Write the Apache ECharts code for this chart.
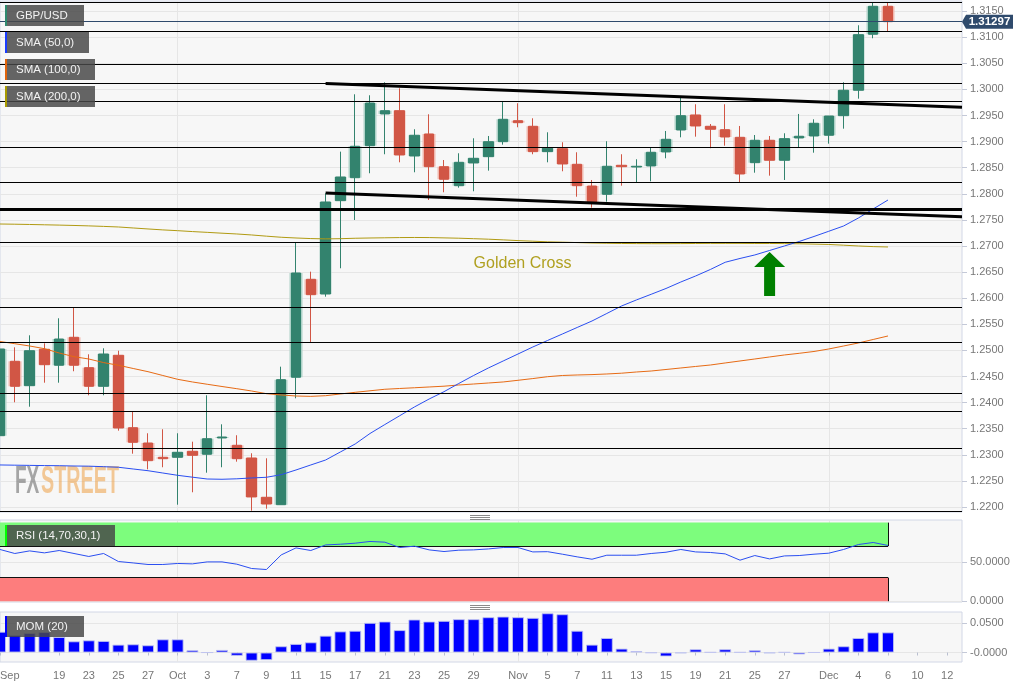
<!DOCTYPE html>
<html>
<head>
<meta charset="utf-8">
<style>html,body{margin:0;padding:0;background:#fff}#c{width:1032px;height:688px}</style>
<script src="https://cdn.jsdelivr.net/npm/echarts@6/dist/echarts.min.js"></script>
</head>
<body>
<div id="c"></div>
<script>
const categories = ['Sep 13','Sep 16','Sep 17','Sep 18','Sep 19','Sep 20','Sep 23','Sep 24','Sep 25','Sep 26','Sep 27','Sep 30',
'Oct 1','Oct 2','Oct 3','Oct 4','Oct 7','Oct 8','Oct 9','Oct 10','Oct 11','Oct 14','Oct 15','Oct 16','Oct 17','Oct 18','Oct 21','Oct 22','Oct 23','Oct 24','Oct 25','Oct 28','Oct 29','Oct 30','Oct 31',
'Nov 1','Nov 4','Nov 5','Nov 6','Nov 7','Nov 8','Nov 11','Nov 12','Nov 13','Nov 14','Nov 15','Nov 18','Nov 19','Nov 20','Nov 21','Nov 22','Nov 25','Nov 26','Nov 27','Nov 28','Nov 29',
'Dec 2','Dec 3','Dec 4','Dec 5','Dec 6','Dec 9','Dec 10','Dec 11','Dec 12','Dec 13'];
const tickCategories = ['Sep 13','Sep 19','Sep 23','Sep 25','Sep 27','Oct 1','Oct 3','Oct 7','Oct 9','Oct 11','Oct 15','Oct 17','Oct 21','Oct 23','Oct 25','Oct 29','Nov 1','Nov 5','Nov 7','Nov 11','Nov 13','Nov 15','Nov 19','Nov 21','Nov 25','Nov 27','Dec 2','Dec 4','Dec 6','Dec 10','Dec 12'];
const tickLabels = ['Sep','19','23','25','27','Oct','3','7','9','11','15','17','21','23','25','29','Nov','5','7','11','13','15','19','21','25','27','Dec','4','6','10','12'];
const monthStarts = ['Oct 1','Nov 1','Dec 2'];

const opens = [1.23366,1.24791,1.24324,1.25021,1.24715,1.25251,1.24669,1.24312,1.24906,1.23519,1.23226,1.22952,1.22952,1.23067,1.23010,1.23322,1.23182,1.22939,1.22186,1.22044,1.24485,1.26362,1.26080,1.27868,1.28308,1.28921,1.29529,1.29592,1.28724,1.29146,1.28519,1.28155,1.28590,1.28711,1.28998,1.29400,1.29293,1.28807,1.28864,1.28565,1.28149,1.27990,1.28546,1.28513,1.28533,1.28801,1.29222,1.29510,1.29293,1.29228,1.29082,1.28596,1.29025,1.28642,1.29069,1.29107,1.29121,1.29496,1.29983,1.31056,1.31592];
const closes = [1.25027,1.24312,1.24994,1.24726,1.25218,1.24715,1.24312,1.24931,1.23513,1.23239,1.22887,1.22925,1.23048,1.22990,1.23308,1.23341,1.22925,1.22192,1.22057,1.24439,1.26483,1.26067,1.27843,1.28322,1.28910,1.29739,1.29592,1.28743,1.29121,1.28519,1.28278,1.28603,1.28680,1.28998,1.29427,1.29362,1.28807,1.28872,1.28571,1.28155,1.27837,1.28527,1.28519,1.28527,1.28795,1.29044,1.29496,1.29299,1.29236,1.29088,1.28379,1.29025,1.28642,1.29056,1.29102,1.29351,1.29490,1.29983,1.31048,1.31592,1.31297];
const lows = [1.23174,1.24006,1.23921,1.24381,1.24381,1.24600,1.24140,1.24140,1.23462,1.23021,1.22722,1.22761,1.22044,1.22282,1.22657,1.22761,1.22868,1.21929,1.21967,1.22044,1.24082,1.25161,1.26029,1.26573,1.27498,1.28393,1.28757,1.28603,1.28412,1.27881,1.28029,1.28117,1.28048,1.28443,1.28941,1.29274,1.28757,1.28603,1.28431,1.27944,1.27734,1.27849,1.28155,1.28220,1.28239,1.28680,1.29082,1.29094,1.28872,1.28921,1.28226,1.28404,1.28347,1.28264,1.28883,1.28787,1.28960,1.29247,1.29822,1.30979,1.31113];
const highs = [1.25071,1.25059,1.25289,1.25136,1.25615,1.25818,1.24925,1.25040,1.24994,1.23820,1.23412,1.23489,1.23412,1.23251,1.24140,1.23584,1.23374,1.23029,1.22933,1.24688,1.27057,1.26508,1.28010,1.28807,1.29906,1.29887,1.30136,1.30021,1.29236,1.29523,1.28647,1.28776,1.29063,1.29107,1.29764,1.29734,1.29446,1.29178,1.28987,1.28795,1.28264,1.29006,1.28757,1.28661,1.28883,1.29203,1.29860,1.29715,1.29337,1.29715,1.29299,1.29126,1.29107,1.29159,1.29529,1.29427,1.29490,1.30136,1.31228,1.31661,1.31661];

const sma50 = [1.22805,1.22801,1.22797,1.22793,1.22791,1.22785,1.22782,1.22772,1.22761,1.22728,1.22695,1.22651,1.22607,1.22571,1.22536,1.22531,1.22540,1.22556,1.22569,1.22619,1.22709,1.22805,1.22900,1.23054,1.23207,1.23408,1.23579,1.23747,1.23916,1.24069,1.24209,1.24366,1.24519,1.24663,1.24797,1.24931,1.25065,1.25190,1.25314,1.25439,1.25563,1.25707,1.25851,1.25966,1.26075,1.26186,1.26310,1.26425,1.26550,1.26688,1.26761,1.26828,1.26914,1.27000,1.27086,1.27182,1.27282,1.27383,1.27536,1.27709,1.27881];
const sma100 = [1.25170,1.25128,1.25084,1.25033,1.24950,1.24879,1.24835,1.24766,1.24715,1.24653,1.24592,1.24519,1.24446,1.24395,1.24351,1.24308,1.24266,1.24222,1.24171,1.24146,1.24126,1.24119,1.24132,1.24165,1.24197,1.24226,1.24255,1.24270,1.24284,1.24299,1.24314,1.24337,1.24356,1.24375,1.24395,1.24427,1.24460,1.24496,1.24519,1.24529,1.24536,1.24548,1.24563,1.24586,1.24605,1.24634,1.24663,1.24692,1.24720,1.24759,1.24797,1.24835,1.24874,1.24912,1.24944,1.24979,1.25027,1.25084,1.25142,1.25209,1.25276];
const sma200 = [1.27421,1.27417,1.27412,1.27406,1.27400,1.27393,1.27385,1.27375,1.27364,1.27345,1.27326,1.27308,1.27293,1.27276,1.27261,1.27245,1.27230,1.27211,1.27188,1.27167,1.27153,1.27142,1.27136,1.27140,1.27148,1.27153,1.27157,1.27161,1.27163,1.27161,1.27155,1.27149,1.27140,1.27130,1.27117,1.27103,1.27092,1.27080,1.27073,1.27065,1.27057,1.27052,1.27048,1.27046,1.27044,1.27044,1.27046,1.27048,1.27050,1.27050,1.27050,1.27048,1.27048,1.27046,1.27042,1.27036,1.27029,1.27015,1.27000,1.26988,1.26981];

const rsi = [65.8,60.7,64.0,61.5,64.5,60.7,56.9,60.7,50.5,48.7,46.7,46.7,48.0,47.5,50.0,50.0,47.1,41.6,40.3,58.9,67.8,64.5,71.6,72.5,73.8,76.0,75.1,68.3,70.0,65.3,63.2,64.9,65.3,66.5,68.3,68.3,62.7,63.0,59.8,56.4,53.4,58.5,58.5,58.5,60.7,62.3,65.8,62.7,62.0,60.2,52.2,58.1,53.8,57.6,58.1,59.8,61.1,65.8,72.1,74.7,70.9];
const mom = [0.0358,0.0301,0.0335,0.0352,0.0267,0.0193,0.0210,0.0199,0.0136,0.0142,0.0125,0.0227,0.0227,0.0040,0,0.0045,-0.0057,-0.0142,-0.0131,0.0108,0.0148,0.0176,0.0290,0.0364,0.0375,0.0511,0.0534,0.0386,0.0568,0.0534,0.0545,0.0574,0.0574,0.0608,0.0619,0.0608,0.0597,0.0676,0.0659,0.0375,0.0136,0.0250,0.0068,0.0023,-0.0006,-0.0068,-0.0011,0.0057,0.0006,0.0057,0.0006,0.0040,-0.0011,0.0006,-0.0034,0.0001,0.0068,0.0108,0.0250,0.0347,0.0347];

const priceTicks = [1.22,1.225,1.23,1.235,1.24,1.245,1.25,1.255,1.26,1.265,1.27,1.275,1.28,1.285,1.29,1.295,1.30,1.305,1.31,1.315];
const rsiTicks = [0,50];
const momTicks = [0,0.05];
const momTickLabels = ['-0.0000','0.0500'];
const levels = [1.31668,1.31109,1.30477,1.30113,1.29772,1.28891,1.28216,1.27067,1.25826,1.25155,1.24178,1.23833,1.23125,1.21918];
const thickLevel = 1.27699;
const lastPrice = 1.31297;
const trendUpper = [['Oct 15',1.30113],['Dec 13',1.29657]];
const trendLower = [['Oct 15',1.28015],['Dec 13',1.27561]];
const goldenCrossText = 'Golden Cross';
const goldenCrossAt = ['Nov 1',1.26693];
const arrowAt = ['Nov 26',1.26885];

const FONT = '"Liberation Sans", Arial, sans-serif';
const GREEN='#33836e', RED='#d15645', FRAME='#d2d7e6', GRIDC='#e6e6e6', LBL='#777777';
const lastIdx = opens.length-1;

const candles = opens.map((o,i)=>[o,closes[i],lows[i],highs[i]]);
const halos = opens.map((o,i)=>[o,closes[i],Math.min(o,closes[i]),Math.max(o,closes[i])]);
const grids = [{top:1,h:511},{top:520,h:82},{top:612,h:50}];

function xAxisOf(gridIndex, showLabels){
  return {
    type:'category', gridIndex, data:categories, boundaryGap:false,
    axisLine:{show:false},
    axisTick:{show:showLabels, length:3, lineStyle:{color:'#b9bfd0'}, interval:(i,v)=>tickCategories.includes(v)},
    axisLabel:{show:showLabels, interval:(i,v)=>tickCategories.includes(v), color:LBL, fontFamily:FONT, fontSize:11, margin:8,
      alignMinLabel:'left',
      formatter:v=>tickLabels[tickCategories.indexOf(v)]},
    splitLine:{show:true, interval:(i,v)=>monthStarts.includes(v), lineStyle:{color:GRIDC,width:1}}
  };
}
function yAxisOf(gridIndex,min,max,ticks,fmt){
  return {
    type:'value', gridIndex, position:'right', min, max, scale:true,
    axisLine:{show:false},
    axisTick:{show:true,length:5,customValues:ticks,lineStyle:{color:'#c4c9d8'}},
    axisLabel:{customValues:ticks,formatter:fmt,color:LBL,fontFamily:FONT,fontSize:11,margin:8,padding:[2,0,0,0]},
    splitLine:{show:true,lineStyle:{color:GRIDC,width:1}}
  };
}
function sma(name,data,color){
  return {name,type:'line',xAxisIndex:0,yAxisIndex:0,data,symbol:'none',z:4,
    lineStyle:{color,width:1},silent:true,animation:false};
}
function legendBox(x,y,w,label,stripe){
  return [
    {type:'rect',shape:{x,y,width:w,height:21},style:{fill:'rgba(72,72,72,0.84)'},z:50},
    {type:'rect',shape:{x,y,width:2,height:21},style:{fill:stripe},z:51},
    {type:'text',x:x+11,y:y+10.5,style:{text:label,fill:'#f2f2f2',font:'11.5px '+FONT,textVerticalAlign:'middle'},z:51}
  ];
}
function handle(y){
  return [0,2,4].map(d=>({type:'line',shape:{x1:470,y1:y+d+0.5,x2:490,y2:y+d+0.5},style:{stroke:'#8a8a8a',lineWidth:1},z:40}));
}
const option = {
  animation:false,
  backgroundColor:'#ffffff',
  grid:grids.map(g=>({left:0,width:962,top:g.top,height:g.h,show:true,backgroundColor:'#f7f7f7',borderColor:FRAME,borderWidth:1,containLabel:false,outerBoundsMode:'none'})),
  xAxis:[xAxisOf(0,false),xAxisOf(1,false),xAxisOf(2,true)],
  yAxis:[
    yAxisOf(0,1.21904,1.31693,priceTicks,v=>v.toFixed(4)),
    yAxisOf(1,-1,103.3,rsiTicks,v=>v.toFixed(4)),
    yAxisOf(2,-0.0163,0.0697,momTicks,v=>momTickLabels[momTicks.indexOf(v)])
  ],
  series:[
    {type:'candlestick',xAxisIndex:0,yAxisIndex:0,data:halos,barWidth:13,z:2,silent:true,
      itemStyle:{color:'#aed2c8',color0:'#f0b8af',borderColor:'#aed2c8',borderColor0:'#f0b8af',borderWidth:0}},
    {type:'candlestick',xAxisIndex:0,yAxisIndex:0,data:candles,barWidth:10,z:3,silent:true,
      itemStyle:{color:GREEN,color0:RED,borderColor:GREEN,borderColor0:RED,borderWidth:1}},
    sma('SMA (200,0)',sma200,'#b09a12'),
    sma('SMA (100,0)',sma100,'#e66a14'),
    sma('SMA (50,0)',sma50,'#2a4ef0'),
    {type:'line',xAxisIndex:0,yAxisIndex:0,data:[],z:6,silent:true,symbol:'none',
      markLine:{silent:true,symbol:'none',precision:5,label:{show:false},animation:false,
        data:levels.map(v=>({yAxis:v,lineStyle:{color:'#000',width:1,type:'solid'}}))
          .concat([{yAxis:thickLevel,lineStyle:{color:'#000',width:3,type:'solid'}},
                   {yAxis:lastPrice,lineStyle:{color:'#2f4a6c',width:1,type:'solid'}}])}},
    {type:'line',xAxisIndex:0,yAxisIndex:0,data:trendUpper,symbol:'none',z:7,silent:true,lineStyle:{color:'#000',width:3}},
    {type:'line',xAxisIndex:0,yAxisIndex:0,data:trendLower,symbol:'none',z:7,silent:true,lineStyle:{color:'#000',width:3}},
    {type:'custom',xAxisIndex:0,yAxisIndex:0,z:8,silent:true,clip:false,data:[goldenCrossAt],
      renderItem:(p,api)=>{const c=api.coord([api.value(0),api.value(1)]);
        return {type:'text',x:c[0]+4.5,y:c[1]+1.5,style:{text:goldenCrossText,fill:'#b0a020',font:'16px '+FONT,textAlign:'center',textVerticalAlign:'middle'}};}},
    {type:'custom',xAxisIndex:0,yAxisIndex:0,z:8,silent:true,data:[arrowAt],
      renderItem:(p,api)=>{const c=api.coord([api.value(0),api.value(1)]);const x=c[0],y=c[1];
        return {type:'polygon',shape:{points:[[x,y],[x+15.5,y+15],[x+5.5,y+15],[x+5.5,y+44],[x-5.5,y+44],[x-5.5,y+15],[x-15.5,y+15]]},style:{fill:'#008000'}};}},
    {type:'custom',xAxisIndex:0,yAxisIndex:0,z:9,silent:true,clip:false,data:[['Dec 13',lastPrice]],
      renderItem:(p,api)=>{const c=api.coord([api.value(0),api.value(1)]);const x=c[0],y=c[1];
        return {type:'group',children:[
          {type:'polygon',shape:{points:[[x,y],[x+4,y-7],[x+51,y-7],[x+51,y+7],[x+4,y+7]]},style:{fill:'#2f4a6c'}},
          {type:'text',x:x+27.5,y:y,style:{text:lastPrice.toFixed(5),fill:'#fff',font:'bold 11.5px '+FONT,textAlign:'center',textVerticalAlign:'middle'}}
        ]};}},
    {type:'line',xAxisIndex:1,yAxisIndex:1,data:[],silent:true,symbol:'none',z:2,
      markArea:{silent:true,animation:false,data:[
        [{xAxis:0,yAxis:70,itemStyle:{color:'#7dfd7d'}},{xAxis:lastIdx,yAxis:100}],
        [{xAxis:0,yAxis:0,itemStyle:{color:'#fd7d7d'}},{xAxis:lastIdx,yAxis:30}]
      ]},
      markLine:{silent:true,symbol:'none',label:{show:false},animation:false,lineStyle:{color:'#111',width:1,type:'solid'},data:[
        [{xAxis:0,yAxis:70},{xAxis:lastIdx,yAxis:70}],
        [{xAxis:0,yAxis:30},{xAxis:lastIdx,yAxis:30}],
        [{xAxis:lastIdx,yAxis:70},{xAxis:lastIdx,yAxis:100}],
        [{xAxis:lastIdx,yAxis:0},{xAxis:lastIdx,yAxis:30}]
      ]}},
    {name:'RSI (14,70,30,1)',type:'line',xAxisIndex:1,yAxisIndex:1,data:rsi,symbol:'none',z:5,silent:true,lineStyle:{color:'#2a4ef0',width:1}},
    {name:'MOM (20)',type:'bar',xAxisIndex:2,yAxisIndex:2,data:mom,barWidth:12,silent:true,z:3,
      itemStyle:{color:'#0000ff',borderColor:'rgba(190,195,240,0.85)',borderWidth:1}}
  ],
  graphic:{elements:[].concat(
    legendBox(5,5,79,'GBP/USD','#2f8a6e'),
    legendBox(5,32,84,'SMA (50,0)','#1a3cff'),
    legendBox(5,59,90,'SMA (100,0)','#e0640c'),
    legendBox(5,86,90,'SMA (200,0)','#a89a00'),
    legendBox(5,525,110,'RSI (14,70,30,1)','#00ff00'),
    legendBox(5,616,79,'MOM (20)','#0000ff'),
    handle(515), handle(605),
    [
      {type:'text',x:15,y:464,scaleX:0.5,scaleY:1,style:{text:'FX',fill:'rgba(130,130,130,0.7)',font:'bold 38px "Liberation Sans Narrow","Liberation Sans",sans-serif'},z:1,silent:true},
      {type:'text',x:41,y:464,scaleX:0.52,scaleY:1,style:{text:'STREET',fill:'rgba(238,160,70,0.55)',font:'bold 38px "Liberation Sans Narrow","Liberation Sans",sans-serif'},z:1,silent:true}
    ]
  )}
};
const chart = echarts.init(document.getElementById('c'),null,{renderer:'canvas'});
chart.setOption(option);
</script>
</body>
</html>
